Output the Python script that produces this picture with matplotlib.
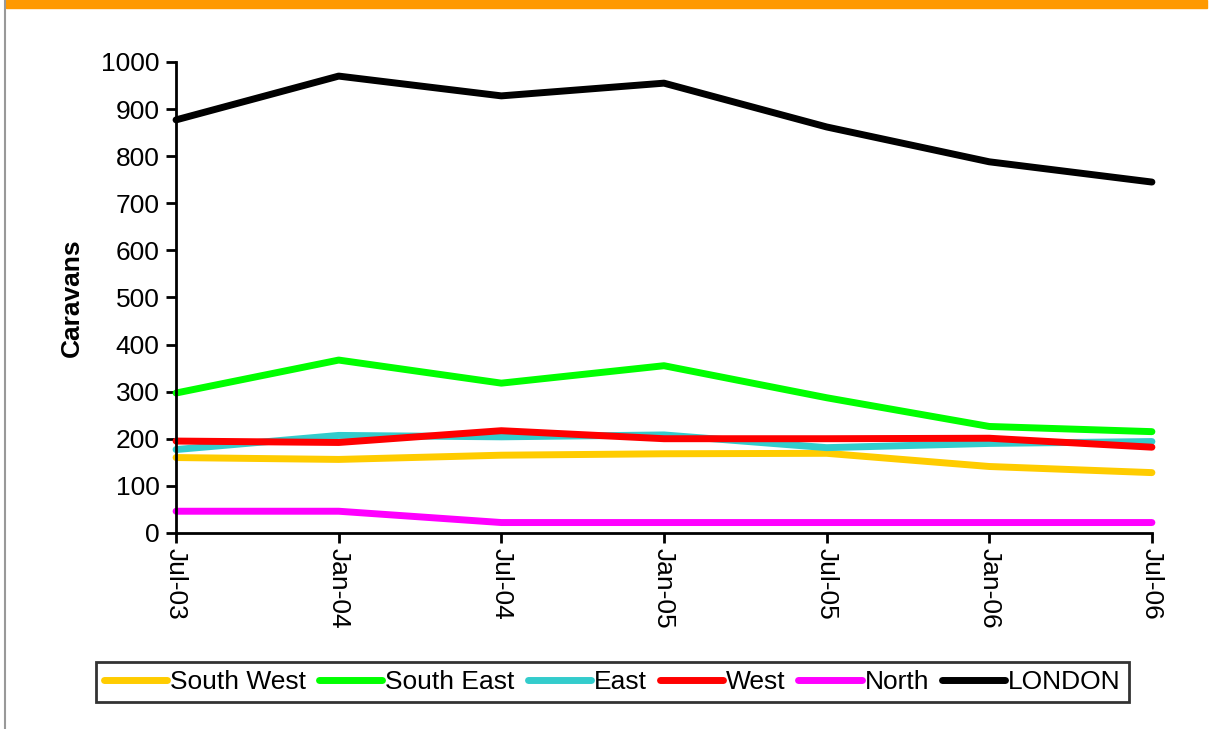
import matplotlib.pyplot as plt
from matplotlib.patches import Rectangle
from matplotlib.lines import Line2D

plt.rcParams['font.family'] = ['Liberation Sans', 'DejaVu Sans']

# data
periods = ['Jul-03', 'Jan-04', 'Jul-04', 'Jan-05', 'Jul-05', 'Jan-06', 'Jul-06']
south_west = [160, 156, 165, 168, 169, 141, 128]
south_east = [297, 367, 318, 355, 287, 226, 215]
east = [177, 207, 204, 208, 181, 190, 194]
west = [195, 192, 217, 200, 200, 201, 182]
north = [46, 46, 22, 22, 22, 22, 22]
london = [877, 970, 928, 955, 862, 788, 745]

series = [
    ('South West', south_west, '#FFCC00'),
    ('South East', south_east, '#00FF00'),
    ('East', east, '#33CCCC'),
    ('West', west, '#FF0000'),
    ('North', north, '#FF00FF'),
    ('LONDON', london, '#000000'),
]

fig = plt.figure(figsize=(12.1, 7.29), dpi=100)
ax = fig.add_axes([0.1455, 0.269, 0.8065, 0.646])

x = list(range(len(periods)))
for name, vals, col in series:
    ax.plot(x, vals, color=col, lw=5, solid_capstyle='round', label=name,
            clip_on=False)

ax.set_xlim(0, len(periods) - 1)
ax.set_ylim(0, 1000)
ax.set_yticks(range(0, 1001, 100))
ax.set_xticks(x)
ax.set_xticklabels(periods, rotation=-90)
ax.tick_params(axis='both', labelsize=19, length=7, width=2, direction='out')
ax.tick_params(axis='y', pad=5)
ax.tick_params(axis='x', pad=4)
ax.set_ylabel('Caravans', fontsize=19, fontweight='bold', labelpad=12)

for s in ['top', 'right']:
    ax.spines[s].set_visible(False)
for s in ['left', 'bottom']:
    ax.spines[s].set_linewidth(2)

leg = fig.legend(loc='center', bbox_to_anchor=(0.506, 0.064), ncol=6,
                 fontsize=19, frameon=True, fancybox=False, edgecolor='black',
                 handlelength=2.4, handletextpad=0.1, columnspacing=0.5,
                 borderpad=0.3, borderaxespad=0)
leg.get_frame().set_linewidth(2)
for h in leg.get_lines():
    h.set_linewidth(5)

# frame decorations
fig.patches.append(Rectangle((6 / 1210, 1 - 8 / 729), 1201 / 1210, 8 / 729,
                             transform=fig.transFigure, color='#FF9900'))
fig.lines.append(Line2D([5 / 1210, 5 / 1210], [0, 1], transform=fig.transFigure,
                        color='#999999', lw=1.5))

fig.savefig('out.png', dpi=100)
